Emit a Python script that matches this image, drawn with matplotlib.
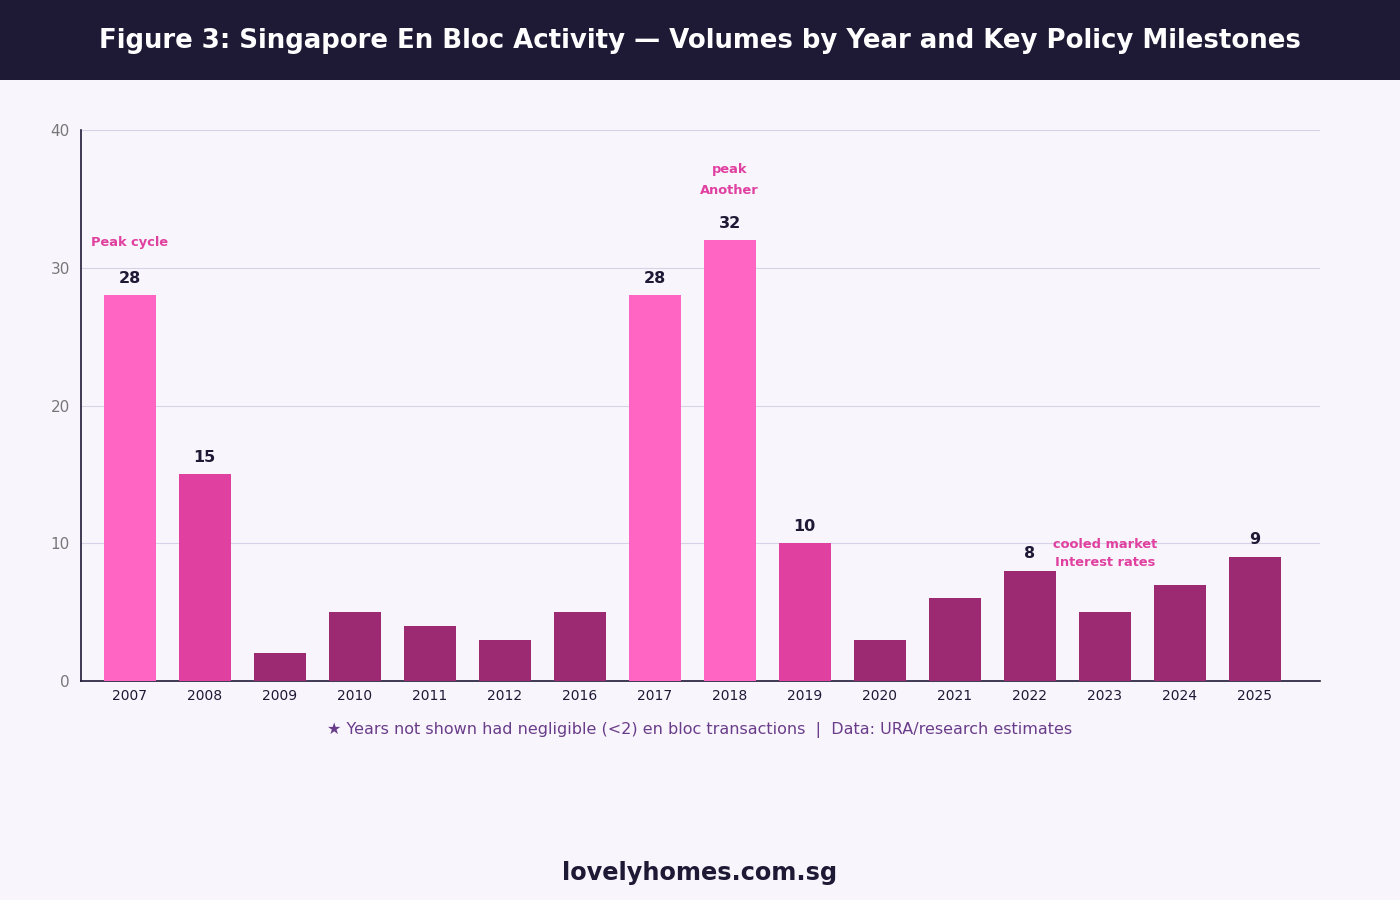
import matplotlib
matplotlib.use('Agg')
import matplotlib.pyplot as plt
from matplotlib.patches import Rectangle

# data
years = ['2007', '2008', '2009', '2010', '2011', '2012', '2016', '2017',
         '2018', '2019', '2020', '2021', '2022', '2023', '2024', '2025']
volumes = [28, 15, 2, 5, 4, 3, 5, 28, 32, 10, 3, 6, 8, 5, 7, 9]
tiers = ['peak', 'mid', 'low', 'low', 'low', 'low', 'low', 'peak',
         'peak', 'mid', 'low', 'low', 'low', 'low', 'low', 'low']
labelled = ['2007', '2008', '2017', '2018', '2019', '2022', '2025']
notes = [('2007', 31.8, 'Peak cycle'),
         ('2018', 37.1, 'peak'),
         ('2018', 35.6, 'Another'),
         ('2023', 9.9, 'cooled market'),
         ('2023', 8.6, 'Interest rates')]

tier_colors = {'peak': '#ff66c4', 'mid': '#e040a0', 'low': '#9b2a72'}
bg = '#f8f5fc'
navy = '#1e1a36'

fig = plt.figure(figsize=(14, 9), dpi=100)
fig.patch.set_facecolor(bg)

# title bar
fig.patches.append(Rectangle((0, 1 - 80 / 900), 1, 80 / 900, transform=fig.transFigure,
                             facecolor=navy, edgecolor='none', zorder=0))
fig.text(0.5, 1 - 41 / 900, 'Figure 3: Singapore En Bloc Activity \u2014 Volumes by Year and Key Policy Milestones',
         ha='center', va='center', color='white', fontsize=18.7, fontweight='bold')

ax = fig.add_axes([81 / 1400, 1 - 681 / 900, 1239 / 1400, 551 / 900])
ax.set_facecolor(bg)
x = list(range(len(years)))
ax.bar(x, volumes, width=0.7, color=[tier_colors[t] for t in tiers], zorder=3)

for i, (yr, v) in enumerate(zip(years, volumes)):
    if yr in labelled:
        ax.text(i, v + 0.7, str(v), ha='center', va='bottom', fontsize=11.5,
                fontweight='bold', color=navy, zorder=4)

for yr, yv, txt in notes:
    ax.text(years.index(yr), yv, txt, ha='center', va='center', fontsize=9.4,
            fontweight='bold', color='#e040a0', zorder=4)

ax.set_xlim(-0.65, 15.87)
ax.set_ylim(0, 40)
ax.set_yticks([0, 10, 20, 30, 40])
ax.set_xticks(x)
ax.set_xticklabels(years)
ax.tick_params(axis='x', length=0, labelsize=10, labelcolor=navy, pad=6)
ax.tick_params(axis='y', length=0, labelsize=11, labelcolor='#777777', pad=8)
ax.grid(axis='y', color='#d8d2e8', linewidth=0.8, zorder=0)
for s in ['top', 'right']:
    ax.spines[s].set_visible(False)
for s in ['left', 'bottom']:
    ax.spines[s].set_color(navy)
    ax.spines[s].set_linewidth(1.2)

fig.text(0.5, 1 - 730 / 900,
         '\u2605 Years not shown had negligible (<2) en bloc transactions  |  Data: URA/research estimates',
         ha='center', va='center', fontsize=11.5, color='#6a3d8a')
fig.text(0.5, 1 - 873 / 900, 'lovelyhomes.com.sg', ha='center', va='center',
         fontsize=17.3, fontweight='bold', color=navy)

fig.savefig('out.png', dpi=100, facecolor=bg)
